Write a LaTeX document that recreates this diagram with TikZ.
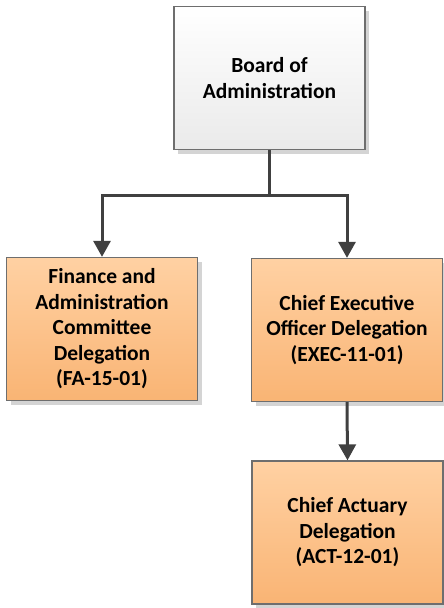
\documentclass[tikz,border=0pt]{standalone}
\usepackage{fontspec}
\setmainfont{Carlito}
\usetikzlibrary{arrows.meta, shadows}
\definecolor{naranjaclaro}{HTML}{FFD1A3}
\definecolor{naranjaoscuro}{HTML}{F9B474}
\definecolor{grisclaro}{HTML}{EAEAEA}
\definecolor{borde}{HTML}{6E6E6E}
\definecolor{flechagris}{HTML}{404040}
\begin{document}
\begin{tikzpicture}[x=1pt, y=-1pt,
		caja/.style={draw=borde, line width=1.3pt, minimum width=191pt, minimum height=143pt,
			align=center, font=\bfseries\fontsize{21.5}{25.5}\selectfont,
			drop shadow={shadow xshift=4pt, shadow yshift=-4pt, fill=black!17, opacity=1}},
		delegacion/.style={caja, top color=naranjaclaro, bottom color=naranjaoscuro},
		flecha/.style={draw=flechagris, line width=3pt, -{Triangle[length=16pt, width=17pt]}}]
	\useasboundingbox (0,0) rectangle (444,608);
	
	% Cajas
	\node[caja, top color=white, bottom color=grisclaro] (junta) at (269.5,78) {Board of\\Administration};
	\node[delegacion] (finanzas) at (102,329) {Finance and\\Administration\\Committee\\Delegation\\(FA-15-01)};
	\node[delegacion] (ejecutivo) at (347,330) {Chief Executive\\Officer Delegation\\(EXEC-11-01)};
	\node[delegacion] (actuario) at (347.5,532.5) {Chief Actuary\\Delegation\\(ACT-12-01)};
	
	% Conectores
	\draw[flecha] (junta.south) -- ++(0,45) -| (finanzas.north);
	\draw[flecha] (junta.south) -- ++(0,45) -| (ejecutivo.north);
	\draw[flecha] (ejecutivo.south) -- (actuario.north);
\end{tikzpicture}
\end{document}
